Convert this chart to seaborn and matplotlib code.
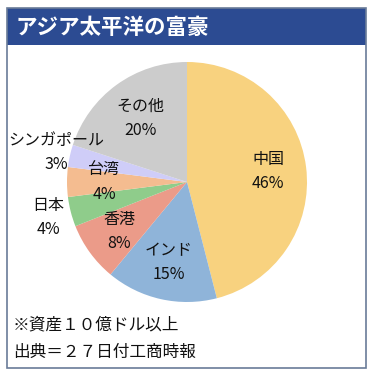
import numpy as np
import matplotlib
matplotlib.use("Agg")
import matplotlib.pyplot as plt
import seaborn as sns
from matplotlib.patches import Rectangle

sns.set_theme(style="white")
plt.rcParams["font.family"] = ["Noto Sans CJK JP", "DejaVu Sans"]

# データ（富豪の国・地域別構成比, %）
regions = ["中国", "インド", "香港", "日本", "台湾", "シンガポール", "その他"]
shares = [46, 15, 8, 4, 4, 3, 20]

title = "アジア太平洋の富豪"
notes = ["※資産１０億ドル以上", "出典＝２７日付工商時報"]

# 配色・ラベル位置（半径比）
palette = ["#F8D27F", "#8FB4D9", "#EB9B89", "#8FCC8B", "#F4BC90", "#CFCDF8", "#CCCCCC"]
label_r = [0.68, 0.69, 0.70, 1.19, 0.69, 1.12, 0.66]

W, H = 371, 377
fig = plt.figure(figsize=(W / 100, H / 100), dpi=100)
fig.patch.set_facecolor("white")

# 外枠とタイトルバー
fig.add_artist(Rectangle((7 / W, 1 - 368 / H), 359 / W, 360 / H, transform=fig.transFigure,
                         facecolor="none", edgecolor="#6A7C98", linewidth=1.2, zorder=5))
fig.add_artist(Rectangle((7 / W, 1 - 45 / H), 359 / W, 37 / H, transform=fig.transFigure,
                         facecolor="#2C4B92", edgecolor="none", zorder=4))
fig.text(16 / W, 1 - 27 / H, title, color="white", fontsize=15.5, fontweight="bold",
         ha="left", va="center", zorder=6)

# 円グラフ
cx, cy, r = 187, 182, 120
ax = fig.add_axes([(cx - r) / W, 1 - (cy + r) / H, 2 * r / W, 2 * r / H])
ax.set_zorder(3)
ax.patch.set_alpha(0)
wedges, _ = ax.pie(shares, colors=palette, startangle=90, counterclock=False, radius=1,
                   wedgeprops=dict(linewidth=0))
ax.set_xlim(-1, 1)
ax.set_ylim(-1, 1)
ax.axis("off")

for w, name, val, rr in zip(wedges, regions, shares, label_r):
    mid = np.deg2rad((w.theta1 + w.theta2) / 2)
    ax.text(rr * np.cos(mid), rr * np.sin(mid), f"{name}\n{val}%", ha="center", va="center",
            fontsize=11.5, linespacing=1.55, color="#111111", clip_on=False)

# 注記
for i, note in enumerate(notes):
    fig.text(13 / W, 1 - (325 + 27 * i) / H, note, fontsize=12, ha="left", va="center",
             color="#111111")

fig.savefig("out.png", dpi=100)
